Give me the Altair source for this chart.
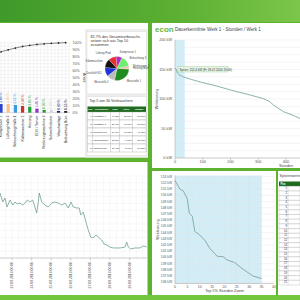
import altair as alt
import pandas as pd

FONT = "Liberation Sans"

# ---------------- data ----------------
# Pareto chart (top left) - the visible last ten of 30 consumers
pareto_names = ["Kompressor 2", "Lüftung Halle 3", "Beleuchtung Halle 1", "Kältemaschine 2",
                "Heizung", "EDV / Server", "Werkzeugmaschine 3", "Schweißroboter",
                "Waschanlage", "Beleuchtung Büro"]
pareto_share = [3.0, 3.0, 2.65, 2.3, 2.05, 1.4, 0.95, 0.9, 0.6, 0.55]
pareto_cum = [87.0, 89.8, 92.4, 94.6, 96.2, 97.5, 98.4, 99.1, 99.6, 100.0]
pareto_value_labels = ["3,00 %", "3,00 %", "2,65 %", "2,30 %", "2,05 %", "1,40 %",
                       "0,95 %", "0,90 %", "0,60 %", "0,55 %"]
pareto_colors = ["#2a46d0", "#f7c48e", "#3b9be0", "#d12f2f", "#22a03c", "#8a35c9",
                 "#2e9b2e", "#d6d6d6", "#1c237a", "#111111"]
share_ticks = [0, 10, 20, 30, 40, 50, 60, 70, 80, 90, 100]
share_tick_labels = ["0%", "10%", "20%", "30%", "40%", "50%", "60%", "70%", "80%", "90%", "100%"]
share_minor = [0, 5, 10, 15, 20, 25, 30, 35, 40, 45, 50, 55, 60, 65, 70, 75, 80, 85, 90, 95, 100]
pareto_grid_idx = [-0.5, 0.0, 0.5, 1.0, 1.5, 2.0, 2.5, 3.0, 3.5, 4.0, 4.5, 5.0, 5.5, 6.0,
                   6.5, 7.0, 7.5, 8.0, 8.5, 9.0, 9.5]

# Pie (top ten consumers)
pie_names = ["Kompressor 1", "Beleuchtung 3", "Werkzeugm. 2", "Heizung Büro", "Messstelle 1",
             "Messstelle 2", "Druckluft 901", "Kältemaschine", "Lüftung Prod"]
pie_values = [6.9, 12.2, 1.8, 1.8, 22.5, 9.2, 9.9, 9.9, 8.5]
pie_colors = ["#b02cc4", "#6def6d", "#f4a0a0", "#f6c99a", "#1e8c1e", "#bdbdbd", "#1e35d8",
              "#111111", "#e53030"]
pie_title = ["82,7% des Gesamtverbrauchs", "setzen sich aus Top 10", "zusammen"]

# Top 5 table
t5_cols = ["Pos", "Verbraucher", "kWh", "Anteil", "Summe"]
t5_pos = [1, 2, 3, 4, 5]
t5_name = ["Messstelle 1", "Messstelle 2", "Druckluft 901", "Kältemaschine", "Lüftung Prod"]
t5_kwh = ["40.050", "31.460", "19.197", "12.800", "11.472"]
t5_share = ["20,80%", "16,06%", "10,12%", "6,65%", "5,90%"]
t5_sum = ["20,80%", "36,86%", "46,98%", "53,63%", "59,53%"]

# Dauerkennlinie (load duration curve)
dk_hours = [0, 2, 3.4, 5, 5.8, 7, 8, 10, 12, 14, 17, 19.5, 21, 24, 27.5, 31.5, 35,
            60, 90, 150, 210, 271, 319, 340, 355, 391, 430, 455]
dk_kw = [152.4, 151.0, 150.7, 149.4, 147.1, 146.6, 144.2, 143.6, 142.8, 141.5, 140.2,
         140.1, 139.6, 139.2, 138.1, 137.0, 136.6, 133.0, 129.0, 122.0, 114.0, 106.8,
         100.5, 96.0, 89.8, 78.5, 71.5, 66.0]
top5_hours = [0, 35]
dk_kw_ticks = [0, 50, 100, 150, 200]
dk_kw_tick_labels = ["0 kW", "50 kW", "100 kW", "150 kW", "200 kW"]
dk_kw_grid = [0, 12.5, 25, 37.5, 50, 62.5, 75, 87.5, 100, 112.5, 125, 137.5, 150, 162.5,
              175, 187.5, 200]
dk_h_ticks = [0, 100, 200, 300, 400]
dk_h_tick_labels = ["0", "100", "200", "300", "400"]

zoom_kw_ticks = [136, 137, 138, 139, 140, 141, 142, 143, 144, 145, 146, 147, 148, 149,
                 150, 151, 152, 153]
zoom_kw_labels = [f"{v} kW" for v in zoom_kw_ticks]
zoom_h_ticks = [0, 5, 10, 15, 20, 25, 30, 35, 40]
zoom_h_labels = ["0", "5", "10", "15", "20", "25", "30", "35", "40"]

peak_rows = list(range(1, 22))

# Time series (bottom left)
ts_hours = [-14.7, -11.4, -8.6, -6.1, -2.4, 0.9, 3.7, 6.5, 9.8, 13.1, 15.9, 18.7, 22.0,
            25.3, 27.3, 30.2, 32.2, 33.4, 36.4, 40.4, 44.4, 48.6, 52.7, 56.7, 60.9, 64.9,
            68.9, 72.2, 75.1, 79.2, 82.4, 84.1, 87.3, 90.6, 93.4, 96.4, 99.6, 102.9, 105.7,
            109.8, 112.7, 116.0, 120.0, 124.0, 132.2, 138.4, 140.4, 142.4, 145.3, 150.6,
            156.7, 160.8, 164.9]
ts_kw = [142.7, 122.9, 131.7, 111.9, 127.3, 116.3, 122.9, 118.5, 120.7, 116.3, 120.7,
         127.3, 122.9, 127.3, 116.3, 98.8, 122.9, 142.7, 122.9, 116.3, 111.9, 120.7, 122.9,
         120.7, 116.3, 120.7, 109.8, 122.9, 111.9, 109.8, 109.8, 94.4, 101.0, 79.0, 61.5,
         46.1, 43.9, 50.5, 46.1, 39.5, 30.7, 28.5, 24.1, 22.0, 22.0, 24.1, 35.1, 24.1, 19.8,
         22.0, 22.0, 26.3, 24.1]
ts_day_ticks = [0, 24, 48, 72, 96, 120, 144]
ts_day_labels = ["23.08.2016 00:00", "24.08.2016 00:00", "25.08.2016 00:00",
                 "26.08.2016 00:00", "27.08.2016 00:00", "28.08.2016 00:00",
                 "29.08.2016 00:00"]
ts_grid_h = [-8, 0, 8, 16, 24, 32, 40, 48, 56, 64, 72, 80, 88, 96, 104, 112, 120, 128,
             136, 144, 152, 160]
ts_grid_v = [0, 15, 30, 45, 60, 75, 90, 105, 120, 135, 150, 165, 180]

# ---------------- styles ----------------
BG = "#5db230"
GRID = "#e2e2e2"
AXIS = "#a0a0a0"
LABEL = "#555555"
LINE = "#6f9f93"
SHADE = "#d3edf7"
HEAD = "#1f6b1f"


def one():
    return alt.Chart(pd.DataFrame({"k": [0]}))


def rect(x1, x2, y1, y2, fill, stroke=None, sw=0.6):
    kw = {"fill": fill}
    if stroke:
        kw.update(stroke=stroke, strokeWidth=sw)
    else:
        kw.update(strokeWidth=0)
    return one().mark_rect(**kw).encode(x=alt.value(x1), x2=alt.value(x2),
                                         y=alt.value(y1), y2=alt.value(y2))


def text(t, x, y, size=4.2, color="#444444", align="left", angle=0, weight="normal"):
    return one().mark_text(text=t, fontSize=size, color=color, align=align, angle=angle,
                           fontWeight=weight, baseline="middle", font=FONT).encode(
        x=alt.value(x), y=alt.value(y))


def hline(x1, x2, y, color=AXIS, sw=0.5):
    return one().mark_rule(color=color, strokeWidth=sw).encode(
        x=alt.value(x1), x2=alt.value(x2), y=alt.value(y))


def vline(x, y1, y2, color=AXIS, sw=0.5):
    return one().mark_rule(color=color, strokeWidth=sw).encode(
        x=alt.value(x), y=alt.value(y1), y2=alt.value(y2))


L = []

# ---------- background bands and panels ----------
L.append(one().mark_rect(strokeWidth=0, fill=alt.Gradient(
    gradient="linear", x1=0, x2=1, y1=0, y2=0,
    stops=[alt.GradientStop(color="#3f9a2a", offset=0),
           alt.GradientStop(color="#5cb032", offset=0.6),
           alt.GradientStop(color="#7cc64a", offset=1)])).encode(
    x=alt.value(0), x2=alt.value(300), y=alt.value(0), y2=alt.value(22)))
L.append(rect(0, 300, 295, 300, "#72c63e"))
L.append(rect(0, 148, 23, 157.5, "#ffffff"))
L.append(rect(152, 300, 23, 168, "#ffffff"))
L.append(rect(0, 147.5, 162, 295, "#ffffff"))
L.append(rect(152, 276, 171, 295, "#ffffff"))
L.append(rect(278, 300, 171, 295, "#ffffff"))
L.append(rect(85, 148, 29, 157.5, "#eeeeee"))
L.append(rect(87, 146.5, 31.5, 94, "#ffffff", "#d0d0d0", 0.4))
L.append(rect(87, 146.5, 96.5, 155.5, "#ffffff", "#d0d0d0", 0.4))

# ---------- Pareto chart ----------
pdf = pd.DataFrame({"i": list(range(len(pareto_names))), "name": pareto_names,
                    "share": pareto_share, "cum": pareto_cum, "lab": pareto_value_labels})
PX = alt.Scale(type="band", domain=pareto_names, range=[-2.6, 69.3],
               paddingInner=0.55, paddingOuter=0.275)
PXI = alt.Scale(domain=[-0.5, 9.5], range=[-2.6, 69.3], nice=False, zero=False)
Y_SHARE = alt.Scale(domain=[0, 24], range=[112.7, 42.7], nice=False)
Y_CUM = alt.Scale(domain=[0, 100], range=[112.7, 42.7], nice=False)
PCOL = alt.Scale(domain=pareto_names, range=pareto_colors)

L.append(alt.Chart(pd.DataFrame({"v": share_minor})).mark_rule(color=GRID, strokeWidth=0.4)
         .encode(y=alt.Y("v:Q", scale=Y_CUM, axis=None), x=alt.value(0), x2=alt.value(70)))
L.append(alt.Chart(pd.DataFrame({"g": pareto_grid_idx})).mark_rule(color=GRID, strokeWidth=0.4)
         .encode(x=alt.X("g:Q", scale=PXI, axis=None), y=alt.value(42.7), y2=alt.value(112.7)))
L.append(hline(0, 70, 112.7, "#c0c0c0", 0.5))
L.append(alt.Chart(pdf).mark_bar(strokeWidth=0).encode(
    x=alt.X("name:N", scale=PX, axis=None),
    y=alt.Y("share:Q", scale=Y_SHARE, axis=None),
    color=alt.Color("name:N", scale=PCOL, legend=None)))
L.append(alt.Chart(pdf).mark_text(angle=270, align="left", baseline="middle", fontSize=3.3,
                                  dx=1.2, font=FONT).encode(
    x=alt.X("name:N", scale=PX, axis=None, bandPosition=0.5),
    y=alt.Y("share:Q", scale=Y_SHARE, axis=None),
    text="lab:N",
    color=alt.Color("name:N", scale=PCOL, legend=None)))
L.append(alt.Chart(pdf).mark_text(angle=270, align="right", baseline="middle", fontSize=3.5,
                                  color="#222222", font=FONT).encode(
    x=alt.X("name:N", scale=PX, axis=None, bandPosition=0.5),
    y=alt.value(115.5), text="name:N"))
L.append(alt.Chart(pdf).mark_line(color="#333333", strokeWidth=0.6).encode(
    x=alt.X("name:N", scale=PX, axis=None, bandPosition=0.5),
    y=alt.Y("cum:Q", scale=Y_CUM, axis=None), order="i:Q"))
L.append(alt.Chart(pdf).mark_point(filled=True, size=3, color="#222222", opacity=1).encode(
    x=alt.X("name:N", scale=PX, axis=None, bandPosition=0.5),
    y=alt.Y("cum:Q", scale=Y_CUM, axis=None)))
L.append(alt.Chart(pd.DataFrame({"v": share_ticks, "lab": share_tick_labels}))
         .mark_text(align="left", baseline="middle", fontSize=3.6, color=LABEL, font=FONT)
         .encode(y=alt.Y("v:Q", scale=Y_CUM, axis=None), x=alt.value(72.5), text="lab:N"))
L.append(text("Anteil", 83.5, 77.7, size=3.8, align="center", angle=90, color="#333333"))

# ---------- Pie ----------
piedf = pd.DataFrame({"i": list(range(len(pie_names))), "name": pie_names, "v": pie_values})
THETA = alt.Scale(range=[-0.087, 6.196])
PIECOL = alt.Scale(domain=pie_names, range=pie_colors)
for k, line in enumerate(pie_title):
    L.append(text(line, 90.5, 37.3 + 3.6 * k, size=3.7, color="#333333"))
L.append(alt.Chart(piedf).mark_arc(radius=12, stroke="#ffffff", strokeWidth=0.2).encode(
    theta=alt.Theta("v:Q", stack=True, scale=THETA),
    order=alt.Order("i:Q"),
    color=alt.Color("name:N", scale=PIECOL, legend=None),
    x=alt.value(117), y=alt.value(68.5)))
L.append(alt.Chart(piedf).mark_text(radius=16, align="left", fontSize=2.6, color="#444444",
                                    font=FONT).encode(
    theta=alt.Theta("v:Q", stack=True, scale=THETA),
    order=alt.Order("i:Q"),
    text=alt.condition("datum.i < 5", "name:N", alt.value("")),
    x=alt.value(117), y=alt.value(68.5)))
L.append(alt.Chart(piedf).mark_text(radius=16, align="right", fontSize=2.6, color="#444444",
                                    font=FONT).encode(
    theta=alt.Theta("v:Q", stack=True, scale=THETA),
    order=alt.Order("i:Q"),
    text=alt.condition("datum.i >= 5", "name:N", alt.value("")),
    x=alt.value(117), y=alt.value(68.5)))

# ---------- Top 5 table ----------
L.append(text("Top 5 von 30 Verbrauchern", 89.5, 101.3, size=3.6, color="#333333"))
L.append(rect(87.5, 146, 106.5, 112, HEAD))
t5_left = [87.5, 92.5, 110.5, 119.5, 132.5]
t5_right = [92.5, 110.5, 119.5, 132.5, 146]
for c, xl, xr in zip(t5_cols, t5_left, t5_right):
    L.append(text(c, (xl + xr) / 2, 109.3, size=2.4, color="#ffffff", align="center",
                  weight="bold"))
t5df = pd.DataFrame({"pos": t5_pos, "name": t5_name, "kwh": t5_kwh, "share": t5_share,
                     "sum": t5_sum})
T5Y = alt.Scale(type="band", domain=t5_pos, range=[112, 152], paddingInner=0, paddingOuter=0)
L.append(alt.Chart(t5df).mark_rect(fill="#ffffff", stroke="#9a9a9a", strokeWidth=0.35).encode(
    y=alt.Y("pos:O", scale=T5Y, axis=None), x=alt.value(87.5), x2=alt.value(146)))
for xl in t5_left[1:]:
    L.append(vline(xl, 112, 152, "#9a9a9a", 0.35))
for field, xpos, al in [("pos", 91.5, "right"), ("name", 93.3, "left"), ("kwh", 118.8, "right"),
                        ("share", 131.8, "right"), ("sum", 145.3, "right")]:
    L.append(alt.Chart(t5df).mark_text(align=al, baseline="middle", fontSize=2.3,
                                       color="#222222", font=FONT).encode(
        y=alt.Y("pos:O", scale=T5Y, axis=None, bandPosition=0.5), x=alt.value(xpos),
        text=f"{field}:N"))

# ---------- Dauerkennlinie (top right) ----------
TX = alt.Scale(domain=[0, 800], range=[175, 397], nice=False, zero=False)
TY = alt.Scale(domain=[0, 200], range=[158, 40], nice=False)
dkdf = pd.DataFrame({"h": dk_hours, "kw": dk_kw})
top5df = pd.DataFrame({"a": [top5_hours[0]], "b": [top5_hours[1]]})
L.append(text("econ", 155, 29.5, size=8, color="#6ab43e", weight="bold"))
L.append(text("Dauerkennlinie Werk 1 - Stunden / Werk 1", 175, 29.5, size=4.6, color="#444444"))
L.append(alt.Chart(top5df).mark_rect(fill=SHADE, strokeWidth=0).encode(
    x=alt.X("a:Q", scale=TX, axis=None), x2="b:Q", y=alt.value(40), y2=alt.value(158)))
L.append(alt.Chart(pd.DataFrame({"v": dk_kw_grid})).mark_rule(color=GRID, strokeWidth=0.4)
         .encode(y=alt.Y("v:Q", scale=TY, axis=None), x=alt.value(175), x2=alt.value(300)))
L.append(vline(175, 40, 158))
L.append(hline(175, 300, 158))
L.append(alt.Chart(pd.DataFrame({"v": dk_kw_ticks, "lab": dk_kw_tick_labels}))
         .mark_text(align="right", baseline="middle", fontSize=3.8, color=LABEL, font=FONT)
         .encode(y=alt.Y("v:Q", scale=TY, axis=None), x=alt.value(172), text="lab:N"))
L.append(alt.Chart(pd.DataFrame({"v": dk_h_ticks, "lab": dk_h_tick_labels}))
         .mark_text(align="center", baseline="middle", fontSize=3.8, color=LABEL, font=FONT)
         .encode(x=alt.X("v:Q", scale=TX, axis=None), y=alt.value(162), text="lab:N"))
L.append(alt.Chart(pd.DataFrame({"v": dk_h_ticks})).mark_rule(color=AXIS, strokeWidth=0.5)
         .encode(x=alt.X("v:Q", scale=TX, axis=None), y=alt.value(158), y2=alt.value(160)))
L.append(text("Stunden", 286, 165.5, size=3.8, align="center", color="#444444"))
L.append(text("Wirkleistung", 157, 99, size=3.8, align="center", angle=270, color="#444444"))
L.append(alt.Chart(dkdf).mark_line(color=LINE, strokeWidth=0.8).encode(
    x=alt.X("h:Q", scale=TX, axis=None), y=alt.Y("kw:Q", scale=TY, axis=None)))
L.append(rect(178, 228, 66.5, 72, "#eaf6e3", "#8bc48a", 0.4))
L.append(text("Spitze: 152,4 kW (Fr 29.07.2016 19:00)", 179.5, 69.3, size=3, color="#333333"))

# ---------- Top 5% zoom (bottom right) ----------
BX = alt.Scale(domain=[0, 40], range=[175, 274], nice=False, zero=False)
BY = alt.Scale(domain=[135.8, 153.2], range=[283.5, 175.5], nice=False, zero=False)
L.append(alt.Chart(top5df).mark_rect(fill=SHADE, strokeWidth=0).encode(
    x=alt.X("a:Q", scale=BX, axis=None), x2="b:Q", y=alt.value(175.5), y2=alt.value(283.5)))
L.append(alt.Chart(pd.DataFrame({"v": zoom_kw_ticks})).mark_rule(color=GRID, strokeWidth=0.4)
         .encode(y=alt.Y("v:Q", scale=BY, axis=None), x=alt.value(175), x2=alt.value(274)))
L.append(alt.Chart(pd.DataFrame({"v": zoom_h_ticks})).mark_rule(
    color="#d8d8d8", strokeWidth=0.4, strokeDash=[1, 1])
    .encode(x=alt.X("v:Q", scale=BX, axis=None), y=alt.value(175.5), y2=alt.value(283.5)))
L.append(vline(175, 175.5, 283.5))
L.append(hline(175, 274, 283.5))
L.append(alt.Chart(pd.DataFrame({"v": zoom_kw_ticks, "lab": zoom_kw_labels}))
         .mark_text(align="right", baseline="middle", fontSize=3.3, color=LABEL, font=FONT)
         .encode(y=alt.Y("v:Q", scale=BY, axis=None), x=alt.value(172), text="lab:N"))
L.append(alt.Chart(pd.DataFrame({"v": zoom_h_ticks, "lab": zoom_h_labels}))
         .mark_text(align="center", baseline="middle", fontSize=3.5, color=LABEL, font=FONT)
         .encode(x=alt.X("v:Q", scale=BX, axis=None), y=alt.value(286.8), text="lab:N"))
L.append(text("Top 5% Stunden Zoom", 224.5, 290.5, size=3.8, align="center", color="#444444"))
L.append(text("Wirkleistung", 157.5, 229.5, size=3.8, align="center", angle=270, color="#444444"))
L.append(alt.Chart(dkdf).transform_filter("datum.h <= 35").mark_line(
    color=LINE, strokeWidth=0.8).encode(
    x=alt.X("h:Q", scale=BX, axis=None), y=alt.Y("kw:Q", scale=BY, axis=None)))

# ---------- Peak table (bottom right, cropped) ----------
L.append(text("Spitzenwerte", 279.5, 175.5, size=3.6, color="#444444"))
L.append(rect(279, 300, 181.5, 186.3, HEAD))
L.append(text("Pos", 280.5, 184, size=2.8, color="#ffffff", weight="bold"))
PTY = alt.Scale(type="band", domain=peak_rows, range=[186.3, 285], paddingInner=0,
                paddingOuter=0)
ptdf = pd.DataFrame({"pos": peak_rows})
L.append(alt.Chart(ptdf).mark_rect(fill="#ffffff", stroke="#9a9a9a", strokeWidth=0.3).encode(
    y=alt.Y("pos:O", scale=PTY, axis=None), x=alt.value(279), x2=alt.value(300)))
L.append(vline(288, 186.3, 285, "#9a9a9a", 0.3))
L.append(alt.Chart(ptdf).mark_text(align="right", baseline="middle", fontSize=2.6,
                                   color="#222222", font=FONT).encode(
    y=alt.Y("pos:O", scale=PTY, axis=None, bandPosition=0.5), x=alt.value(287),
    text="pos:N"))

# ---------- Time series (bottom left) ----------
SX = alt.Scale(domain=[-15, 165], range=[-0.25, 146.75], nice=False, zero=False)
SY = alt.Scale(domain=[0, 180], range=[258, 176], nice=False)
tsdf = pd.DataFrame({"h": ts_hours, "kw": ts_kw})
L.append(alt.Chart(pd.DataFrame({"v": ts_grid_v})).mark_rule(
    color=GRID, strokeWidth=0.4, strokeDash=[1.2, 0.8])
    .encode(y=alt.Y("v:Q", scale=SY, axis=None), x=alt.value(0), x2=alt.value(147)))
L.append(alt.Chart(pd.DataFrame({"v": ts_grid_h})).mark_rule(
    color=GRID, strokeWidth=0.4, strokeDash=[1.2, 0.8])
    .encode(x=alt.X("v:Q", scale=SX, axis=None), y=alt.value(176), y2=alt.value(258)))
L.append(hline(0, 147, 258))
L.append(alt.Chart(pd.DataFrame({"v": ts_day_ticks})).mark_rule(color=AXIS, strokeWidth=0.5)
         .encode(x=alt.X("v:Q", scale=SX, axis=None), y=alt.value(258), y2=alt.value(260.5)))
L.append(alt.Chart(pd.DataFrame({"v": ts_day_ticks, "lab": ts_day_labels}))
         .mark_text(align="right", baseline="middle", angle=270, fontSize=3.4, color=LABEL,
                    font=FONT)
         .encode(x=alt.X("v:Q", scale=SX, axis=None), y=alt.value(262), text="lab:N"))
L.append(alt.Chart(tsdf).mark_line(color=LINE, strokeWidth=0.8).encode(
    x=alt.X("h:Q", scale=SX, axis=None), y=alt.Y("kw:Q", scale=SY, axis=None)))

chart = alt.layer(*L).resolve_scale(
    x="independent", y="independent", color="independent", theta="independent"
).properties(
    width=300, height=300, autosize=alt.AutoSizeParams(type="none"), padding=0,
    background=BG
).configure_view(stroke=None)

chart.save("out.html", embed_options={"renderer": "svg", "actions": False})
